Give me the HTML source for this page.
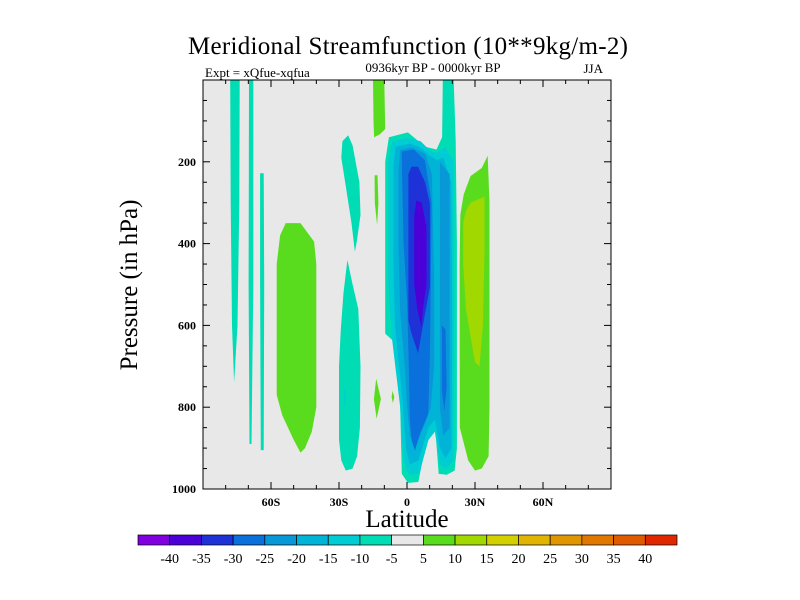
<!DOCTYPE html>
<html><head><meta charset="utf-8"><style>
body{margin:0;background:#fff;}
svg{display:block;font-family:"Liberation Serif",serif;}
</style></head><body>
<svg id="chart" width="800" height="600" viewBox="0 0 800 600">
<text x="408" y="54" font-size="25" text-anchor="middle" textLength="440">Meridional Streamfunction (10**9kg/m-2)</text>
<text x="205" y="77" font-size="13">Expt = xQfue-xqfua</text>
<text x="433" y="72" font-size="13" text-anchor="middle">0936kyr BP - 0000kyr BP</text>
<text x="603" y="73" font-size="13" text-anchor="end">JJA</text>
<rect x="203" y="80" width="408" height="409" fill="#e8e8e8"/>
<g id="fills"></g>
<rect x="203" y="80" width="408" height="409" fill="none" stroke="#000" stroke-width="1"/>
<g id="axes"></g>
<text x="407" y="527" font-size="25" text-anchor="middle">Latitude</text>
<text transform="translate(137,285) rotate(-90)" font-size="25" text-anchor="middle">Pressure (in hPa)</text>
<g id="cbar"></g>
</svg>
<script>
const levelColors=["#8000e0","#4b00d8","#1e32d8","#0a70dc","#0898d8","#00b4d8","#00ccd4","#00dcb4","#e8e8e8","#5adc1e","#a0d800","#d4d000","#e0b400","#e09600","#e07800","#e05a00","#e02800"];
const levelLabels=["-40","-35","-30","-25","-20","-15","-10","-5","5","10","15","20","25","30","35","40"];
const xTicks=[-60,-30,0,30,60];
const xTickLabels=["60S","30S","0","30N","60N"];
const yTicks=[200,400,600,800,1000];
// contour regions: level index into levelColors, polygon as [lat,pressure] pairs
const regionLevels=[7,7,7,9,7,7,9,9,9,9,7,6,5,4,4,3,3,2,1,9,10,6];
const regionShapes=[
[[-78,0],[-73.8,0],[-74,300],[-74.8,600],[-76.3,740],[-77.2,600],[-77.8,300]],
[[-69.7,0],[-67.8,0],[-67.8,500],[-68.6,890],[-69.5,890],[-69.9,500]],
[[-64.8,228],[-63.2,228],[-63,500],[-63.2,905],[-64.5,905],[-64.8,500]],
[[-53.5,350],[-47,350],[-41,395],[-40,450],[-40,800],[-42,860],[-45,900],[-47,911],[-50,880],[-55,820],[-57.5,770],[-57.5,450],[-56,380]],
[[-28.5,150],[-26,135],[-24,160],[-21,250],[-20.5,330],[-22,390],[-23,420],[-24.5,350],[-27,260],[-29,190]],
[[-26.3,440],[-24,500],[-21.5,560],[-20.5,700],[-20.8,850],[-22,920],[-24,950],[-27,955],[-29,930],[-30,880],[-30,700],[-29.2,610],[-28,520]],
[[-15,0],[-10,0],[-9.6,120],[-12,133],[-14.5,140],[-14.8,100]],
[[-14.3,233],[-13,233],[-12.6,300],[-13.2,355],[-14.2,300]],
[[-13.6,730],[-11.5,780],[-13.4,828],[-14.6,780]],
[[-6.4,760],[-5.6,775],[-6.2,790],[-6.8,775]],
[[-9.6,200],[-8,140],[0.4,128],[8,163],[13,170],[15.5,140],[15.8,0],[20.6,0],[21.5,150],[22,400],[22,900],[21,955],[17.5,965],[14,963],[12.3,840],[8,900],[5,983],[0.4,985],[-2.3,963],[-3,800],[-3.1,653],[-9.6,620]],
[[-8.2,200],[-6.7,150],[0,142],[6,150],[10,172],[13,178],[17,165],[20.5,200],[20.8,600],[20.5,930],[17.5,950],[14.5,940],[12.3,860],[9.5,880],[5.5,960],[1,965],[-1.6,930],[-3,800],[-6.7,628],[-8.2,500]],
[[-6,210],[-5,163],[1,155],[6,165],[10,185],[13,195],[16,190],[19.5,250],[20,600],[19.6,900],[17,925],[14.5,900],[12.3,830],[9.5,850],[5,930],[1.3,940],[-0.5,900],[-2,780],[-5.3,600],[-6,450]],
[[-3.8,220],[-3,171],[2,165],[8,180],[11,230],[12,500],[12,700],[10.5,800],[8,840],[5,880],[1.3,873],[0.1,800],[-1,700],[-3.1,560],[-3.8,400]],
[[14.5,200],[18.8,230],[18.8,850],[16,870],[14.5,800],[14.5,400]],
[[-2.3,200],[-2.3,175],[3,170],[7.9,196],[10.8,300],[10.5,500],[10.1,669],[9.4,816],[6,860],[3.5,906],[2,880],[1.3,832],[0.8,700],[0.1,547],[-1.5,400]],
[[15.4,600],[17,610],[17.5,750],[16.5,810],[15.4,760]],
[[0.6,230],[2,212],[4.9,212],[8,250],[10.1,302],[10.1,506],[7,600],[4.9,668],[2,620],[0.6,588],[0.6,400]],
[[3.2,330],[4.2,294],[6.5,300],[8.6,360],[8.6,500],[7,560],[6.4,604],[4.5,560],[3.2,500]],
[[25,280],[28,235],[33,215],[35.6,185],[36.4,300],[36.4,800],[36,920],[33,950],[30,955],[27,930],[23.3,850],[23.2,450],[23.5,330]],
[[26,320],[28,300],[34.2,285],[34.2,420],[33.5,600],[32,700],[30,690],[26,560],[24.8,450],[24.8,350]],
[[-27.9,760],[-27.2,760],[-27,790],[-27.6,800]]
];
const NS="http://www.w3.org/2000/svg";
const X0=203,X1=611,Y0=80,Y1=489;
function xs(lat){return X0+(lat+90)/180*(X1-X0);}
function ys(p){return Y0+p/1000*(Y1-Y0);}
const fills=document.getElementById('fills');
regionShapes.forEach((shape,i)=>{
  const pg=document.createElementNS(NS,'polygon');
  pg.setAttribute('points',shape.map(q=>xs(q[0]).toFixed(1)+','+ys(q[1]).toFixed(1)).join(' '));
  pg.setAttribute('fill',levelColors[regionLevels[i]]);
  
  
  fills.appendChild(pg);
});
const axes=document.getElementById('axes');
function line(x1,y1,x2,y2,name){const l=document.createElementNS(NS,'line');l.setAttribute('x1',x1);l.setAttribute('y1',y1);l.setAttribute('x2',x2);l.setAttribute('y2',y2);l.setAttribute('stroke','#000');l.setAttribute('stroke-width','1');


axes.appendChild(l);}
function txt(x,y,s,anchor,name,size,weight){const t=document.createElementNS(NS,'text');t.setAttribute('x',x);t.setAttribute('y',y);t.setAttribute('text-anchor',anchor);t.setAttribute('font-size',size);if(weight)t.setAttribute('font-weight',weight);t.textContent=s;


return t;}
for(let lat=-80;lat<=80;lat+=10){const x=xs(lat);const L=(lat%30===0)?7:4;line(x,Y1,x,Y1-L,'x-tick');line(x,Y0,x,Y0+L,'x-tick');}
for(let p=50;p<1000;p+=50){const y=ys(p);const L=(p%200===0)?7:4;line(X0,y,X0+L,y,'y-tick');line(X1,y,X1-L,y,'y-tick');}
xTicks.forEach((v,i)=>axes.appendChild(txt(xs(v),506,xTickLabels[i],'middle','x-tick-label',12,'bold')));
yTicks.forEach(v=>axes.appendChild(txt(196,ys(v)+4,String(v),'end','y-tick-label',12,'bold')));
const cb=document.getElementById('cbar');
const cx0=138,cx1=677,cw=(cx1-cx0)/levelColors.length;
levelColors.forEach((c,i)=>{const r=document.createElementNS(NS,'rect');r.setAttribute('x',cx0+i*cw);r.setAttribute('y',535);r.setAttribute('width',cw);r.setAttribute('height',10);r.setAttribute('fill',c);r.setAttribute('stroke','#000');r.setAttribute('stroke-width','0.7');


cb.appendChild(r);});
levelLabels.forEach((s,i)=>cb.appendChild(txt(cx0+(i+1)*cw,563,s,'middle','colorbar-label',14)));
</script>
</body></html>
